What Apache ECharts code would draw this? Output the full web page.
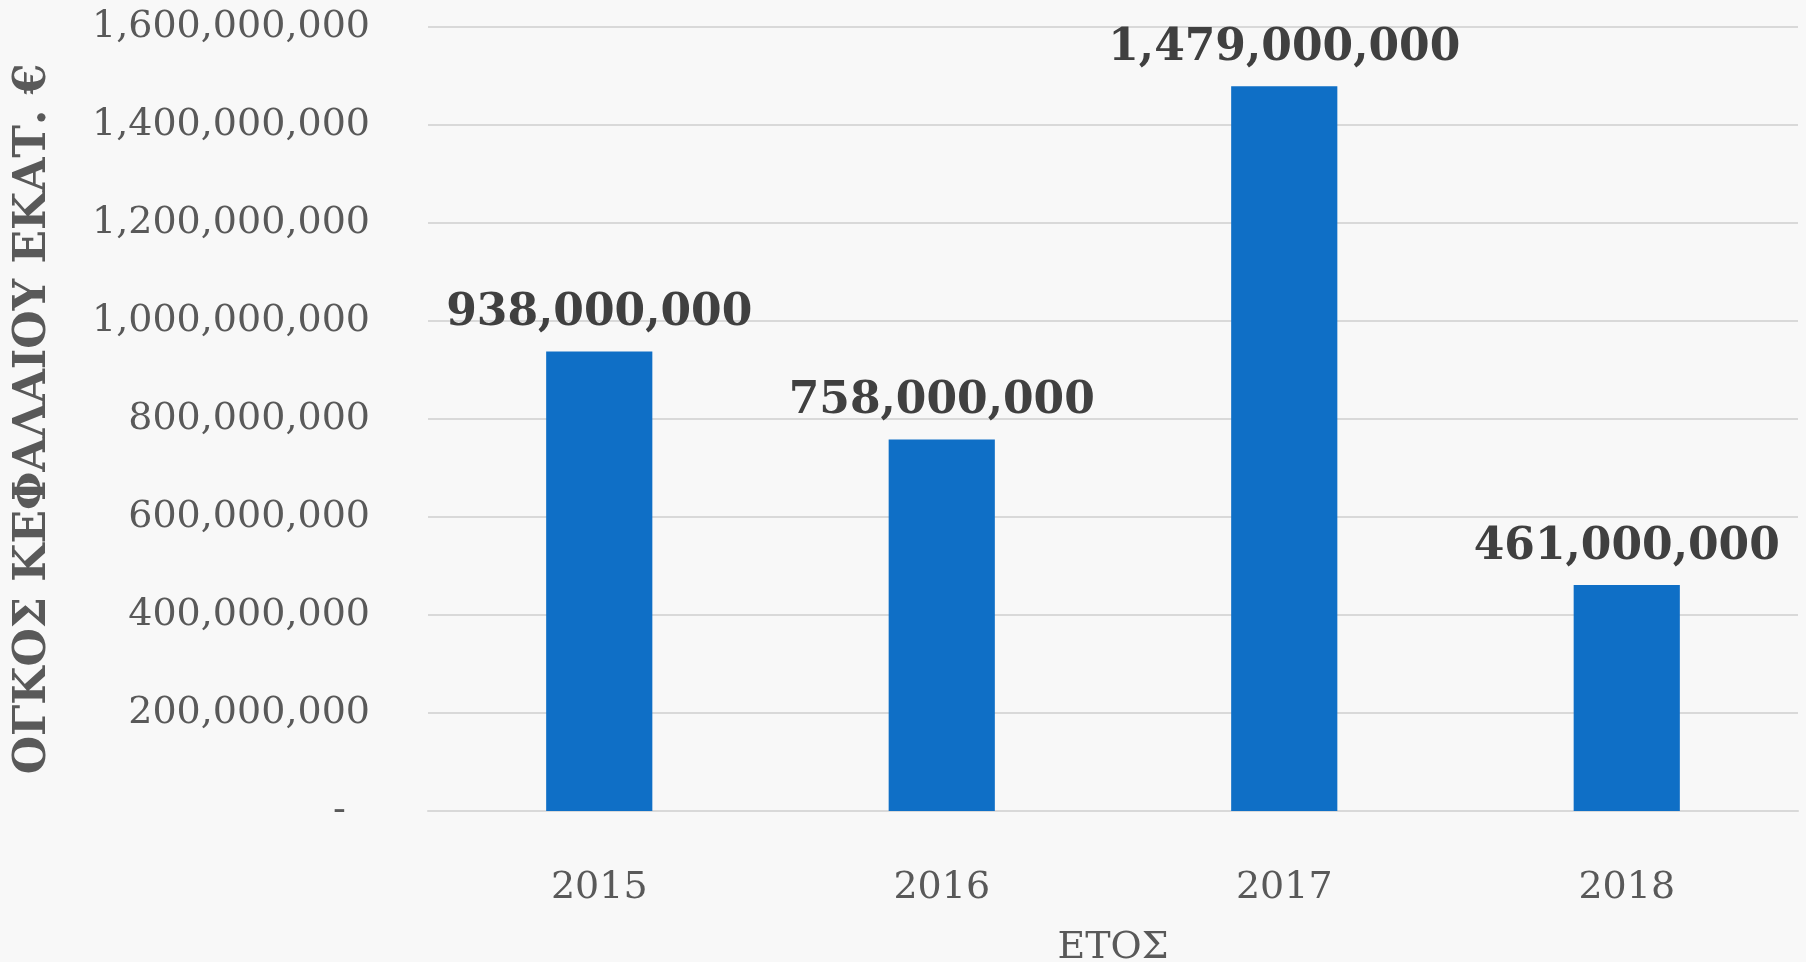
<!DOCTYPE html>
<html>
<head>
<meta charset="utf-8">
<script src="https://cdn.jsdelivr.net/npm/echarts@6/dist/echarts.min.js"></script>
<style>
html,body{margin:0;padding:0;background:#f8f8f8;}
#chart{width:1806px;height:962px;}
</style>
</head>
<body>
<div id="chart"></div>
<script>
const categories = ['2015', '2016', '2017', '2018'];
const values = [938000000, 758000000, 1479000000, 461000000];
const yAxisTitle = 'ΟΓΚΟΣ ΚΕΦΑΛΑΙΟΥ ΕΚΑΤ. €';
const xAxisTitle = 'ΕΤΟΣ';

function fmt(v) {
  if (v === 0) return '-  ';
  return v.toLocaleString('en-US');
}

const chart = echarts.init(document.getElementById('chart'));
chart.setOption({
  backgroundColor: '#f8f8f8',
  animation: false,
  grid: { left: 428, right: 8, top: 27, bottom: 151, containLabel: false, outerBoundsMode: 'none' },
  xAxis: {
    type: 'category',
    data: categories,
    axisLine: { show: true, lineStyle: { color: '#d9d9d9', width: 2 } },
    axisTick: { show: false },
    axisLabel: { margin: 58, color: '#595959', fontFamily: 'DejaVu Serif', fontSize: 38 },
    name: xAxisTitle,
    nameLocation: 'middle',
    nameGap: 118,
    nameTextStyle: { color: '#595959', fontFamily: 'DejaVu Serif', fontSize: 38 }
  },
  yAxis: {
    type: 'value',
    min: 0,
    max: 1600000000,
    interval: 200000000,
    axisLine: { show: false },
    axisTick: { show: false },
    splitLine: { lineStyle: { color: '#d9d9d9', width: 2 } },
    axisLabel: { margin: 58, color: '#595959', fontFamily: 'DejaVu Serif', fontSize: 38, formatter: fmt },
    name: yAxisTitle,
    nameLocation: 'middle',
    nameRotate: 90,
    nameGap: 372,
    nameTextStyle: { color: '#595959', fontFamily: 'DejaVu Serif', fontWeight: 'bold', fontSize: 44 }
  },
  series: [{
    type: 'bar',
    data: values,
    barWidth: '31%',
    itemStyle: { color: '#0f6fc6' },
    label: {
      show: true,
      position: 'top',
      distance: 16,
      color: '#404040',
      fontFamily: 'DejaVu Serif',
      fontWeight: 'bold',
      fontSize: 44,
      formatter: p => p.value.toLocaleString('en-US')
    }
  }]
});
</script>
</body>
</html>
